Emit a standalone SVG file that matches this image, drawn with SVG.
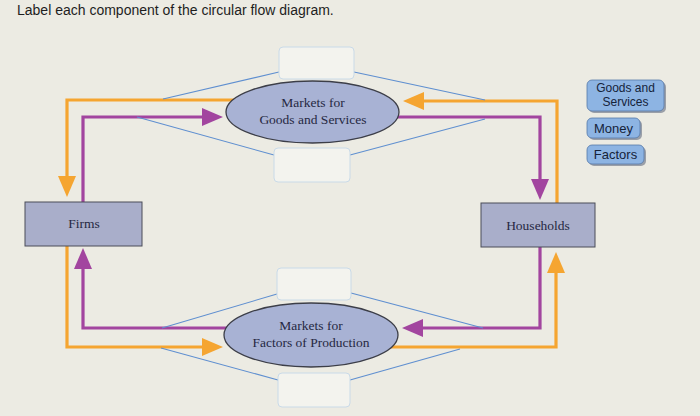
<svg xmlns="http://www.w3.org/2000/svg" width="700" height="416" viewBox="0 0 700 416">
<defs>
<style>
.title{font-family:"Liberation Sans",Arial,sans-serif;font-size:14px;fill:#1e1e1e}
.serif{font-family:"Liberation Serif","Times New Roman",serif;font-size:13.5px;fill:#262842;text-anchor:middle}
.btn{font-family:"Liberation Sans",Arial,sans-serif;font-size:13px;fill:#15233a;text-anchor:middle}
.btn2{font-family:"Liberation Sans",Arial,sans-serif;font-size:12px;fill:#15233a;text-anchor:middle}
.or{fill:none;stroke:#f5a531;stroke-width:3.2}
.pu{fill:none;stroke:#a2459f;stroke-width:3.2}
.bl{fill:none;stroke:#5f8fd0;stroke-width:1.1}
.mkt{fill:#a8b2d4;stroke:#3c3e48;stroke-width:1.3}
.agent{fill:#a9aeca;stroke:#4a4c58;stroke-width:1}
.slot{fill:#f3f3ee;stroke:#c9dae8;stroke-width:1}
.bfill{fill:#8db4e3;stroke:#5678a8;stroke-width:0.8}
.bshadow{fill:#9a9fa8}
</style>
<marker id="ao" markerUnits="userSpaceOnUse" viewBox="0 -10 22 20" refX="0" refY="0" markerWidth="22" markerHeight="20" orient="auto"><path d="M0,-9L21,0L0,9z" fill="#f5a531"/></marker>
<marker id="ap" markerUnits="userSpaceOnUse" viewBox="0 -10 22 20" refX="0" refY="0" markerWidth="22" markerHeight="20" orient="auto"><path d="M0,-9L21,0L0,9z" fill="#a2459f"/></marker>
</defs>
<rect x="0" y="0" width="700" height="416" fill="#ecebe3"/>
<text class="title" x="17" y="15">Label each component of the circular flow diagram.</text>

<g id="connectors">
<path class="or" d="M557,203V101H424" marker-end="url(#ao)"/>
<path class="or" d="M240,100H67V176" marker-end="url(#ao)"/>
<path class="pu" d="M83,202V117H202" marker-end="url(#ap)"/>
<path class="pu" d="M390,117H540V179" marker-end="url(#ap)"/>
<path class="pu" d="M540,247V328H423" marker-end="url(#ap)"/>
<path class="pu" d="M240,328H83V269" marker-end="url(#ap)"/>
<path class="or" d="M67,246V347H202" marker-end="url(#ao)"/>
<path class="or" d="M385,347H556V273" marker-end="url(#ao)"/>
<path class="bl" d="M163,99L279,72"/>
<path class="bl" d="M354,72L485,100"/>
<path class="bl" d="M137,117L274,155"/>
<path class="bl" d="M350,155L485,119"/>
<path class="bl" d="M162,328L277,294"/>
<path class="bl" d="M351,293L483,328"/>
<path class="bl" d="M161,348L278,380"/>
<path class="bl" d="M350,380L460,349"/>
</g>

<g id="slot-top-1"><rect class="slot" x="279" y="47" width="75" height="32" rx="4"/></g>
<g id="slot-top-2"><rect class="slot" x="274" y="148" width="76" height="34" rx="4"/></g>
<g id="slot-bot-1"><rect class="slot" x="277" y="268" width="74" height="32" rx="4"/></g>
<g id="slot-bot-2"><rect class="slot" x="278" y="373" width="72" height="34" rx="4"/></g>

<g id="goods-market">
<ellipse class="mkt" cx="312.5" cy="112" rx="86.5" ry="31"/>
<text class="serif" x="313" y="107">Markets for</text>
<text class="serif" x="313" y="124">Goods and Services</text>
</g>
<g id="factor-market">
<ellipse class="mkt" cx="311" cy="335" rx="87" ry="32"/>
<text class="serif" x="311" y="330">Markets for</text>
<text class="serif" x="311" y="347">Factors of Production</text>
</g>
<g id="firms">
<rect class="agent" x="25" y="202" width="117" height="44"/>
<text class="serif" x="84" y="228">Firms</text>
</g>
<g id="households">
<rect class="agent" x="481" y="203" width="114" height="44"/>
<text class="serif" x="538" y="230">Households</text>
</g>

<g id="btn-goods">
<rect class="bshadow" x="589" y="82" width="77" height="31" rx="5"/>
<rect class="bfill" x="587" y="80" width="77" height="31" rx="5"/>
<text class="btn2" x="625.5" y="92">Goods and</text>
<text class="btn2" x="625.5" y="106">Services</text>
</g>
<g id="btn-money">
<rect class="bshadow" x="589" y="120" width="53" height="20" rx="5"/>
<rect class="bfill" x="587" y="118" width="53" height="20" rx="5"/>
<text class="btn" x="613.5" y="133">Money</text>
</g>
<g id="btn-factors">
<rect class="bshadow" x="589" y="147" width="57" height="19" rx="5"/>
<rect class="bfill" x="587" y="145" width="57" height="19" rx="5"/>
<text class="btn" x="615.5" y="159">Factors</text>
</g>
</svg>
